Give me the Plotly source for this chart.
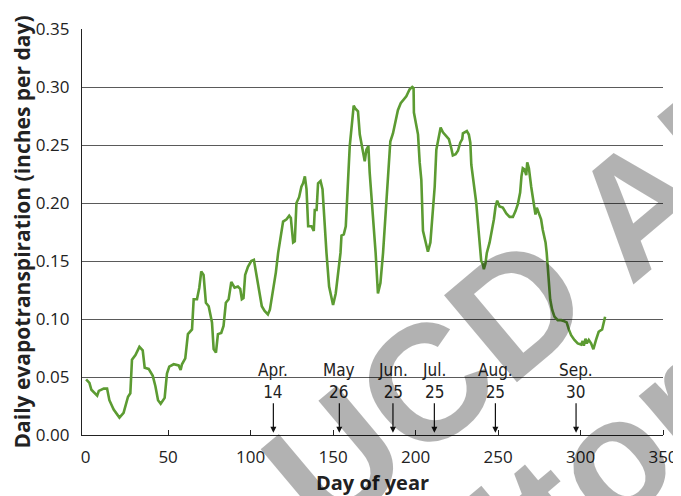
import plotly.graph_objects as go

# Daily evapotranspiration
day = [0.3, 2.3, 3.5, 5.5, 7, 8, 11, 13, 14.4, 17, 20.5, 23, 25.7, 27.1, 28.1, 30.2, 32.6, 34.6,
       35.8, 38.2, 40.7, 42.3, 43.9, 45.5, 47.9, 49.3, 50.7, 53.4, 56.4, 57.6, 58.4, 60.4, 62, 64.5,
       65.5, 67.5, 68.9, 70.1, 71.5, 72.9, 74.6, 76.6, 77.6, 79, 80.2, 82.2, 83.6, 85, 86.7, 88.3,
       89.1, 90.3, 92.3, 93.7, 94.7, 95.7, 96.7, 98.4, 100.4, 102, 103.2, 104.8, 106.8, 108.5,
       110.5, 111.7, 113.7, 115.3, 116.7, 118.1, 119.7, 121.8, 123.4, 124.4, 125.8, 126.8, 127.8,
       129.4, 130.8, 131.8, 132.9, 133.9, 134.9, 136.9, 138.3, 138.9, 140, 140.9, 142.4, 143.6,
       144.6, 146, 147.6, 149, 150, 151.6, 153, 154.5, 155.1, 156.5, 157.7, 158.7, 160.1, 161.7,
       162.5, 163.7, 165.1, 166.2, 167.8, 169.2, 170.2, 171.4, 172.2, 174.2, 175.8, 177.2, 178.7,
       180.3, 181.9, 183.3, 184.7, 186.3, 188, 189.3, 191, 192.8, 194.4, 195.4, 196.4, 198, 198.8,
       199, 200, 201.5, 202.5, 203.5, 204.5, 206.1, 207.5, 209, 210.5, 211.6, 212.6, 214.2, 215.2,
       216.6, 218.6, 220.2, 221.7, 222.6, 224.3, 225.7, 227.1, 228.3, 228.7, 230.3, 231.1, 232.3,
       233.2, 233.8, 235.2, 236.8, 237.8, 238.8, 239.8, 240.8, 241.4, 242.4, 243.2, 244.9, 246.5,
       247.5, 248.5, 249.5, 250.9, 252.9, 255, 257, 259, 260.6, 262, 263.4, 264.2, 265, 266, 267.1,
       267.7, 268.7, 270.1, 271.5, 272.7, 273.5, 274.7, 276.1, 277.1, 278.8, 279.5, 280.1, 280.8,
       281.6, 282.8, 284.2, 286.2, 288.3, 290.3, 291.6, 292.9, 294.3, 296.3, 298.3, 300.4, 301.3,
       302, 303, 303.8, 305, 306.4, 307.8, 309.4, 311, 313.1, 313.9, 314.9]
et = [0.048, 0.045, 0.039, 0.036, 0.034, 0.038, 0.040, 0.040, 0.030, 0.022, 0.015, 0.019, 0.033,
      0.036, 0.065, 0.069, 0.076, 0.073, 0.058, 0.057, 0.051, 0.042, 0.030, 0.027, 0.032, 0.053,
      0.059, 0.061, 0.060, 0.056, 0.061, 0.066, 0.087, 0.091, 0.117, 0.117, 0.127, 0.141, 0.138,
      0.114, 0.111, 0.097, 0.074, 0.071, 0.087, 0.088, 0.094, 0.114, 0.117, 0.132, 0.130, 0.127,
      0.128, 0.126, 0.117, 0.118, 0.138, 0.145, 0.150, 0.151, 0.141, 0.127, 0.111, 0.107, 0.104,
      0.108, 0.125, 0.140, 0.157, 0.171, 0.184, 0.186, 0.189, 0.187, 0.166, 0.167, 0.200, 0.205,
      0.214, 0.217, 0.223, 0.212, 0.180, 0.180, 0.176, 0.194, 0.194, 0.217, 0.219, 0.212, 0.186,
      0.157, 0.128, 0.117, 0.112, 0.122, 0.137, 0.157, 0.172, 0.173, 0.180, 0.212, 0.249, 0.272,
      0.284, 0.281, 0.279, 0.259, 0.246, 0.236, 0.246, 0.249, 0.226, 0.191, 0.157, 0.122, 0.131,
      0.157, 0.191, 0.223, 0.253, 0.260, 0.272, 0.280, 0.286, 0.289, 0.292, 0.295, 0.298, 0.300,
      0.299, 0.278, 0.270, 0.259, 0.235, 0.220, 0.176, 0.166, 0.158, 0.166, 0.195, 0.214, 0.246,
      0.260, 0.265, 0.261, 0.258, 0.255, 0.247, 0.241, 0.242, 0.245, 0.252, 0.255, 0.260, 0.261,
      0.262, 0.259, 0.252, 0.233, 0.217, 0.200, 0.183, 0.166, 0.150, 0.147, 0.143, 0.148, 0.157,
      0.166, 0.177, 0.186, 0.197, 0.202, 0.197, 0.196, 0.191, 0.188, 0.188, 0.193, 0.199, 0.209,
      0.223, 0.230, 0.229, 0.224, 0.235, 0.230, 0.214, 0.203, 0.190, 0.196, 0.191, 0.186, 0.177,
      0.166, 0.157, 0.145, 0.125, 0.117, 0.108, 0.102, 0.099, 0.099, 0.098, 0.097, 0.091, 0.086,
      0.082, 0.079, 0.078, 0.081, 0.077, 0.083, 0.079, 0.082, 0.079, 0.074, 0.082, 0.089, 0.091,
      0.097, 0.102]

# Date markers
marker_day = [113.8, 153.8, 186.3, 211.4, 248.4, 297.3]
marker_month = ["Apr.", "May", "Jun.", "Jul.", "Aug.", "Sep."]
marker_date = ["14", "26", "25", "25", "25", "30"]

x_ticks = [0, 50, 100, 150, 200, 250, 300, 350]
x_tick_marks = [50, 100, 150, 200, 250, 300, 350]
y_ticks = [0.00, 0.05, 0.10, 0.15, 0.20, 0.25, 0.30, 0.35]

# Watermark lines
watermark_lines = ["UCD ANR", "Repository"]

fig = go.Figure()
fig.add_trace(go.Scatter(x=day, y=et, mode="lines",
                         line=dict(color="#5c9b32", width=2.6),
                         hoverinfo="skip", showlegend=False))

annotations = []
for d, m, n in zip(marker_day, marker_month, marker_date):
    annotations.append(dict(
        x=d, y=0.002, xref="x", yref="y", text=m + "<br>" + n,
        showarrow=True, ax=0, ay=-52, arrowhead=2, arrowsize=1.0, arrowwidth=1.2,
        arrowcolor="#111", font=dict(family="Liberation Sans Narrow, DejaVu Sans Condensed, Roboto",
                                     size=17, color="#222"),
        align="center"))

wm_font = dict(family="Liberation Sans, Arial", size=165, color="rgba(0,0,0,0.30)")
annotations.append(dict(x=0.855, y=0.441, xref="paper", yref="paper",
                        text="<b>" + watermark_lines[0] + "</b>", showarrow=False,
                        textangle=-40, font=wm_font, xanchor="center", yanchor="middle"))
annotations.append(dict(x=0.614, y=-0.413, xref="paper", yref="paper",
                        text="<b>" + watermark_lines[1] + "</b>", showarrow=False,
                        textangle=-40, font=wm_font, xanchor="center", yanchor="middle"))

# The page places the figure 8 px from the top-left corner; size and margins compensate
fig.update_layout(
    width=673, height=488,
    margin=dict(l=74, r=18, t=21, b=61),
    paper_bgcolor="white", plot_bgcolor="white",
    font=dict(family="Open Sans, Noto Sans, sans-serif", color="#222"),
    annotations=annotations,
    xaxis=dict(range=[-2.2, 350], tickvals=x_ticks, ticks="",
               minor=dict(tickvals=x_tick_marks, ticks="inside", ticklen=5,
                          tickcolor="#222", showgrid=False),
               showline=True, linecolor="#222", linewidth=1.4,
               showgrid=False, zeroline=False, tickfont=dict(size=17), automargin=False,
               ticklabelstandoff=6,
               title=dict(text="<b>Day of year</b>", font=dict(size=20), standoff=11)),
    yaxis=dict(range=[0, 0.35], tickvals=y_ticks, tickformat=".2f", ticks="",
               showline=True, linecolor="#222", linewidth=1.4,
               showgrid=True, gridcolor="#5a5a5a", gridwidth=1, zeroline=False,
               tickfont=dict(size=17), ticklabelstandoff=8, automargin=False,
               title=dict(text="<b>Daily evapotranspiration (inches per day)</b>",
                          font=dict(size=21), standoff=1)),
)

fig.write_html("out.html")
